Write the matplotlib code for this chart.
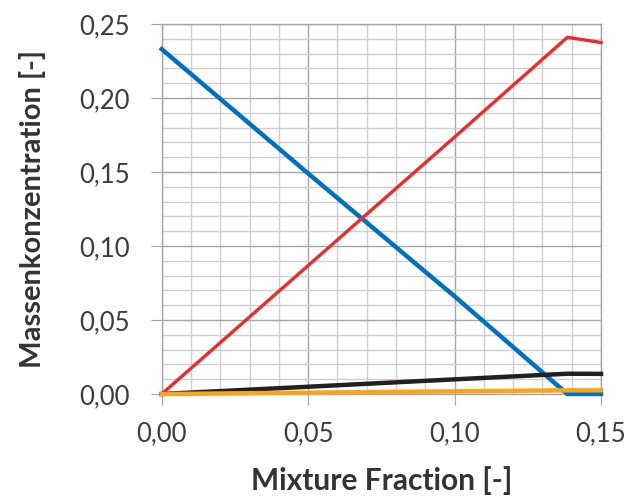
import matplotlib
matplotlib.use("Agg")
import matplotlib.pyplot as plt
from matplotlib.ticker import MultipleLocator, FuncFormatter

# Mixture fraction stuetzstellen
z = [0.0, 0.05, 0.10, 0.1385, 0.15]
o2 = [0.233, 0.149, 0.066, 0.0, 0.0]
co2 = [0.0, 0.0868, 0.1736, 0.241, 0.2375]
h2o = [0.0, 0.0049, 0.0099, 0.0137, 0.0136]
co = [0.0, 0.0009, 0.0018, 0.0025, 0.0025]

plt.rcParams['font.family'] = ['Lato', 'DejaVu Sans']

fig = plt.figure(figsize=(6.3, 5.03), dpi=100)
ax = fig.add_axes([0.2567, 0.2167, 0.6973, 0.7356])

ax.plot(z, o2, color='#0071BC', lw=3.2, clip_on=False, zorder=3)
ax.plot(z, co2, color='#EE2A2E', lw=2.4, clip_on=False, zorder=3)
ax.plot(z, h2o, color='#231F20', lw=3.2, clip_on=False, zorder=3)
ax.plot(z, co, color='#F8A51B', lw=3.2, clip_on=False, zorder=3)

ax.set_xlim(0, 0.15)
ax.set_ylim(0, 0.25)
ax.xaxis.set_major_locator(MultipleLocator(0.05))
ax.xaxis.set_minor_locator(MultipleLocator(0.01))
ax.yaxis.set_major_locator(MultipleLocator(0.05))
ax.yaxis.set_minor_locator(MultipleLocator(0.01))

komma = FuncFormatter(lambda v, p: f"{v:.2f}".replace('.', ','))
ax.xaxis.set_major_formatter(komma)
ax.yaxis.set_major_formatter(komma)

ax.grid(which='major', color='#A6A6A8', lw=1.0)
ax.grid(which='minor', color='#CFCFD1', lw=1.0)
ax.set_axisbelow(True)
for s in ax.spines.values():
    s.set_color('#A6A6A8')
    s.set_linewidth(1.0)

ax.tick_params(which='major', direction='out', length=8, color='#A6A6A8',
               labelsize=18.5, labelcolor='#3C3C3C')
ax.tick_params(axis='y', which='major', pad=15)
ax.tick_params(axis='x', which='major', pad=12)
ax.tick_params(which='minor', length=0)

ax.set_xlabel('Mixture Fraction [-]', fontsize=21.5, fontweight='bold',
              color='#333333', labelpad=14)
ax.set_ylabel('Massenkonzentration [-]', fontsize=21, fontweight='bold',
              color='#333333', labelpad=24)

fig.savefig('out.png', dpi=100)
